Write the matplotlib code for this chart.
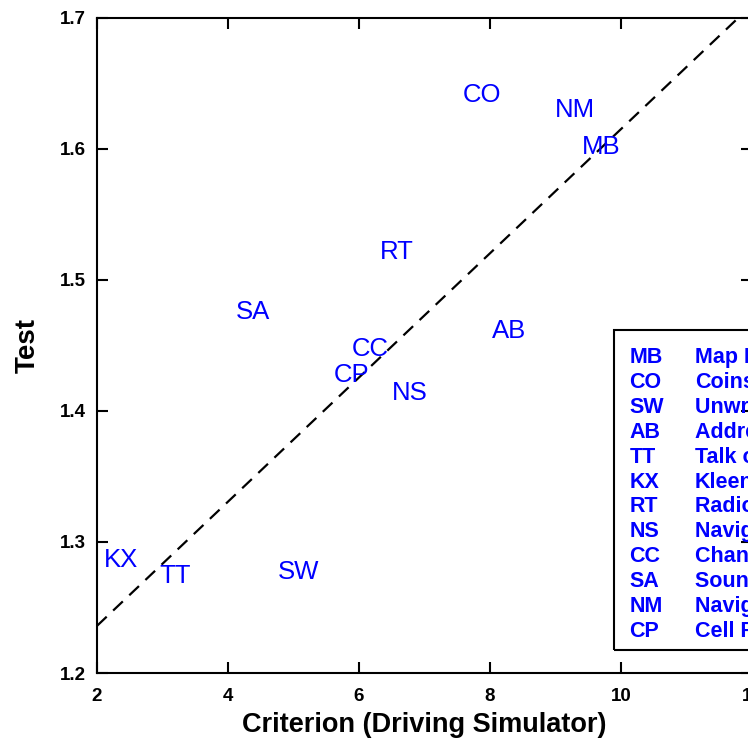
import numpy as np
import matplotlib
matplotlib.use('Agg')
import matplotlib.pyplot as plt
from matplotlib.patches import Rectangle

plt.rcParams['font.family'] = ['Liberation Sans', 'DejaVu Sans']

# task codes with (criterion, test) positions
codes = ['CO', 'NM', 'MB', 'RT', 'SA', 'AB', 'CC', 'CP', 'NS', 'KX', 'TT', 'SW']
criterion = [7.88, 9.29, 9.70, 6.58, 4.38, 8.29, 6.17, 5.88, 6.78, 2.37, 3.19, 5.08]
test = [1.641, 1.630, 1.6015, 1.521, 1.4756, 1.461, 1.447, 1.4275, 1.4137, 1.2863, 1.274, 1.277]

# legend entries
leg_codes = ['MB', 'CO', 'SW', 'AB', 'TT', 'KX', 'RT', 'NS', 'CC', 'SA', 'NM', 'CP']
leg_names = ['Map Reading', 'Coins', 'Unwrap Candy', 'Address Entry', 'Talk on Phone',
             'Kleenex', 'Radio Tuning', 'Navigation (Street)', 'Change CD',
             'Sound System', 'Navigation (Map)', 'Cell Phone']

# fit line endpoints
fit_x = [2.0, 11.79]
fit_y = [1.236, 1.70]

fig = plt.figure(figsize=(7.48, 7.55), dpi=100)
ax = fig.add_axes([0.1297, 0.1086, 0.8756, 0.8676])

ax.plot(fit_x, fit_y, color='black', lw=1.6, dashes=(6, 4))
for c, x, y in zip(codes, criterion, test):
    ax.text(x, y, c, color='#0000ff', fontsize=18.5, ha='center', va='center')

ax.set_xlim(2, 12)
ax.set_ylim(1.2, 1.7)
ax.set_xticks([2, 4, 6, 8, 10, 12])
ax.set_yticks([1.2, 1.3, 1.4, 1.5, 1.6, 1.7])
ax.set_yticklabels(['1.2', '1.3', '1.4', '1.5', '1.6', '1.7'])
ax.tick_params(direction='in', length=8, width=1.5, labelsize=13.5,
               top=True, right=True)
ax.tick_params(axis='x', pad=11)
ax.tick_params(axis='y', pad=8)
for lab in ax.get_xticklabels() + ax.get_yticklabels():
    lab.set_fontweight('bold')
for s in ax.spines.values():
    s.set_linewidth(1.5)

ax.set_xlabel('Criterion (Driving Simulator)', fontsize=19.5, fontweight='bold', labelpad=5)
ax.set_ylabel('Test', fontsize=20, fontweight='bold', labelpad=14)

# legend box (runs off the right edge like the original)
box = Rectangle((9.89, 1.2176), 5.0, 1.4618 - 1.2176, fill=False, lw=1.5,
                edgecolor='black', transform=ax.transData, clip_on=False)
ax.add_patch(box)
for i, (c, n) in enumerate(zip(leg_codes, leg_names)):
    yy = 1.4405 - i * 0.01895
    ax.text(10.13, yy, c, color='#0000ff', fontsize=15.5, fontweight='bold',
            ha='left', va='center', clip_on=False)
    ax.text(11.13, yy, n, color='#0000ff', fontsize=15.5, fontweight='bold',
            ha='left', va='center', clip_on=False)

fig.savefig('out.png', dpi=100)
